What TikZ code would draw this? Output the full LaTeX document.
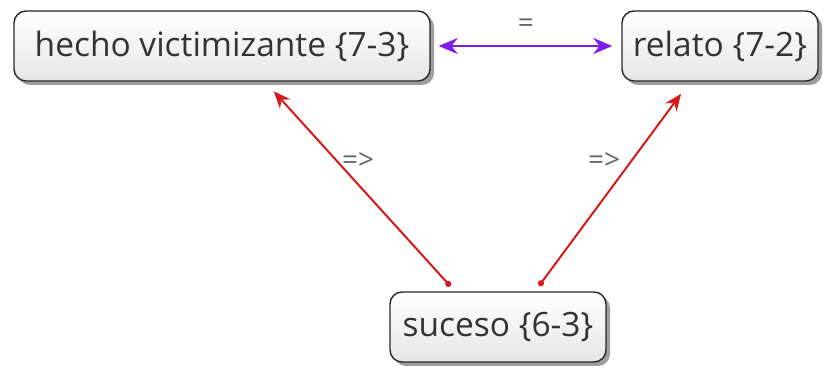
\documentclass[tikz,border=0pt]{standalone}
\usepackage{fontspec}
\setmainfont{Open Sans}
\usetikzlibrary{arrows.meta,shadows}

\definecolor{conceptline}{RGB}{40,40,40}
\definecolor{eqviolet}{RGB}{125,30,230}
\definecolor{implred}{RGB}{215,25,25}

\begin{document}
\begin{tikzpicture}[x=1pt, y=1pt,
    concept/.style={rectangle, rounded corners=12pt, draw=conceptline,
      line width=1.4pt, top color=white, bottom color=black!10,
      text=black!80, font=\fontsize{33.5}{37}\selectfont,
      minimum height=70pt, inner xsep=8pt,
      drop shadow={shadow xshift=4pt, shadow yshift=-4pt, opacity=0.55, fill=black!70}},
    rel/.style={text=black!60, font=\fontsize{28}{32}\selectfont, inner sep=2pt},
    equiv/.style={eqviolet, line width=2pt, {Stealth[length=19pt,width=16pt]}-{Stealth[length=19pt,width=16pt]}},
    impl/.style={implred, line width=2pt, {Circle[length=6pt]}-{Stealth[length=17pt,width=14pt]}}]

  \useasboundingbox (0,0) rectangle (831,371);

  \node[concept, minimum width=416pt] (hecho) at (222,325) {hecho victimizante \{7-3\}};
  \node[concept, minimum width=196pt] (relato) at (720,325) {relato \{7-2\}};
  \node[concept, minimum width=216pt] (suceso) at (498,44) {suceso \{6-3\}};

  \draw[equiv, shorten <=8pt, shorten >=9pt] (hecho.east) -- (relato.west)
    node[rel, midway, above=10pt] (eq) {=};
  \draw[impl, shorten <=7pt, shorten >=13pt] ([xshift=-43pt]suceso.north) -- ([xshift=43pt]hecho.south)
    node[rel, pos=0.62, right=2pt] (ih) {=>};
  \draw[impl, shorten <=7pt, shorten >=15pt] ([xshift=37pt]suceso.north) -- ([xshift=-30pt]relato.south)
    node[rel, pos=0.62, left=8pt] (ir) {=>};
\end{tikzpicture}
\end{document}
